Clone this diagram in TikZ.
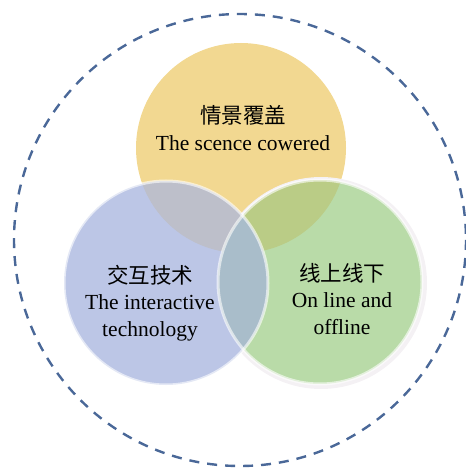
\documentclass[tikz,border=0pt]{standalone}
\usepackage{fontspec}
\setmainfont{Liberation Serif}
\newfontfamily\cjk{Noto Sans CJK SC}
\definecolor{yellowc}{HTML}{F2D891}
\definecolor{bluec}{HTML}{BCC6E6}
\definecolor{greenc}{HTML}{B9DBA8}
\definecolor{ybc}{HTML}{BDBFCA}
\definecolor{ygc}{HTML}{BACC86}
\definecolor{bgc}{HTML}{A9BDCA}
\definecolor{dashc}{HTML}{4A6898}
\definecolor{ringc}{HTML}{F4F1F4}
\begin{document}
\begin{tikzpicture}[x=1pt,y=-1pt,
  label/.style={align=center,font=\fontsize{21.5}{26.5}\selectfont,text=black,inner sep=0pt},
  rim/.style={draw=white,draw opacity=0.6,line width=3pt}]
\useasboundingbox (0,0) rectangle (465,470);
% outer dashed circle
\draw[dashc,line width=2.4pt,dash pattern=on 10pt off 8pt] (240,240) circle (226);
% circles
\fill[yellowc] (241,148) circle (105);
\fill[ringc] (321,283) circle (106);
\fill[bluec] (166,283) circle (102);
\fill[greenc] (320,282) circle (102);
% overlaps
\begin{scope}
  \clip (241,148) circle (105);
  \fill[ybc] (166,283) circle (102);
  \fill[ygc] (320,282) circle (102);
\end{scope}
\begin{scope}
  \clip (166,283) circle (102);
  \fill[bgc] (320,282) circle (102);
\end{scope}
% rims
\draw[rim] (320,282) circle (102);
\draw[rim] (166,283) circle (102);
% labels
\node[label] (top) at (243,128) {{\cjk 情景覆盖}\\The scence cowered};
\node[label] (left) at (150,303) {{\cjk 交互技术}\\The interactive\\technology};
\node[label] (right) at (342,299) {{\cjk 线上线下}\\On line and\\offline};
\end{tikzpicture}
\end{document}
